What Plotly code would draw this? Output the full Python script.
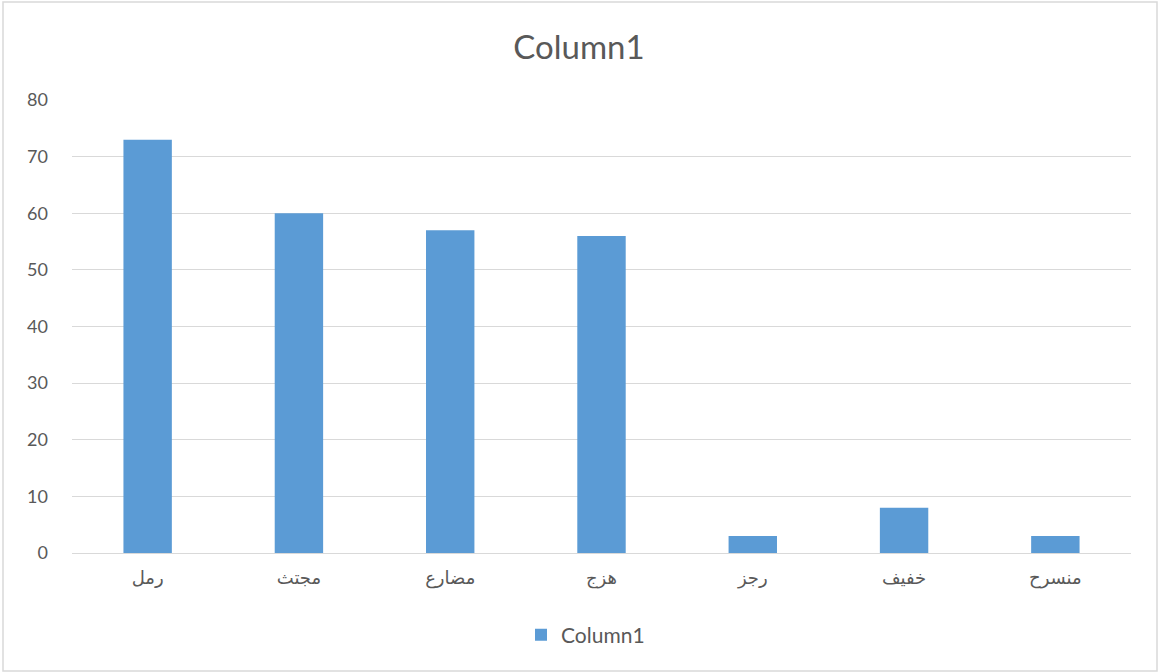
import plotly.graph_objects as go

categories = ["رمل", "مجتث", "مضارع", "هزج", "رجز", "خفيف", "منسرح"]
values = [73, 60, 57, 56, 3, 8, 3]
series_name = "Column1"
tick_vals = [0, 10, 20, 30, 40, 50, 60, 70, 80]

W, H = 1158, 672
ml, mr, mt, mb = 72, 27, 100, 119
pw = W - ml - mr
ph = H - mt - mb

fig = go.Figure()
fig.add_trace(go.Bar(
    x=categories, y=values, name=series_name,
    marker=dict(color="#5b9bd5", line=dict(width=0)),
    showlegend=True,
))

font_fam = "Lato, 'DejaVu Sans', sans-serif"
fig.update_layout(
    width=W, height=H,
    margin=dict(l=ml, r=mr, t=mt, b=mb),
    paper_bgcolor="white", plot_bgcolor="white",
    font=dict(family=font_fam, color="#595959", size=16),
    title=dict(text="Column1", x=0.5, xanchor="center", y=1 - 47 / H, yanchor="middle",
               font=dict(size=33, color="#595959", family=font_fam)),
    bargap=0.68,
    showlegend=True,
    legend=dict(orientation="h", x=0.5 - 16 / pw, xanchor="center", y=(553 - 635) / ph, yanchor="middle",
                font=dict(size=21, color="#595959"), itemwidth=30),
    xaxis=dict(showgrid=False, showline=True, linecolor="#d9d9d9", linewidth=1,
               ticks="", tickfont=dict(size=18, color="#595959", family="'DejaVu Sans', sans-serif"),
               zeroline=False, ticklabelstandoff=8),
    yaxis=dict(range=[0, 80], tickvals=tick_vals, showgrid=True, gridcolor="#d9d9d9",
               gridwidth=1, zeroline=False, showline=False, ticks="",
               tickfont=dict(size=18, color="#595959"), ticklabelstandoff=23),
)

fig.add_shape(type="rect", xref="paper", yref="paper",
              x0=(3 - ml) / pw, x1=(W - 1 - ml) / pw,
              y0=(H - mb - (H - 1)) / ph, y1=(H - mb - 2) / ph,
              line=dict(color="#d9d9d9", width=1.5), fillcolor="rgba(0,0,0,0)", layer="below")

fig.write_html("out.html", config={"displayModeBar": False},
               post_script="document.body.style.margin='0';document.body.style.overflow='hidden';")
